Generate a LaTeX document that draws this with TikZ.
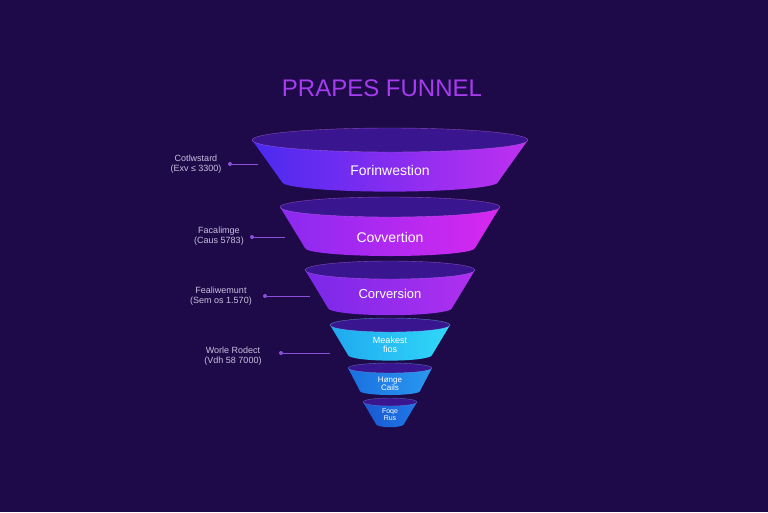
\documentclass[tikz,border=0pt]{standalone}
\usepackage{fontspec}
\setmainfont{Liberation Sans}
\usetikzlibrary{positioning}
\definecolor{bgdark}{HTML}{1E0A48}
\definecolor{titlepurple}{HTML}{A63CF0}
\definecolor{rimdark}{HTML}{3A1590}
\definecolor{labelgray}{HTML}{C8C0E0}
\definecolor{dotpurple}{HTML}{8A50D8}
\begin{document}
\begin{tikzpicture}
    [
      x=1pt, y=-1pt,
      stage/.style={text=white, font=\fontsize{#1}{#1}\selectfont, align=center},
      side/.style={text=labelgray, font=\fontsize{9}{10}\selectfont, align=center},
      my dot/.style={circle, fill=dotpurple, minimum width=4pt, inner sep=0pt},
      link/.style={dotpurple, line width=0.8pt}
    ]
    \fill [bgdark] (0,0) rectangle (768,512);
    \useasboundingbox (0,0) rectangle (768,512);
    \node (title) [text=titlepurple, font=\fontsize{24}{24}\selectfont] at (382,88) {PRAPES FUNNEL};
    % funnel stages: top y, top half width, rim radius, bottom y, bottom half width, left colour, right colour
    \foreach \ty/\tw/\r/\by/\bw/\cl/\cr in {140/138/12/182/108/4A2AF0/C030F0, 207/110/10/248/85/8A2AF0/D828F0, 270/85/9/308/62/7A28E8/B030F0, 325/60/7/355/42/20A8F0/30D8F8, 368/42/5/391/30/1A70E0/2A98F0, 402/27/4/424/14/1858D0/2078E8}
    {
      \definecolor{segl}{HTML}{\cl}
      \definecolor{segr}{HTML}{\cr}
      \shade [left color=segl, right color=segr]
        (390-\tw,\ty) -- (390-\bw,\by) arc [start angle=180, end angle=0, x radius=\bw, y radius=\r*0.8] -- (390+\tw,\ty) -- cycle;
      \fill [rimdark] (390,\ty) ellipse [x radius=\tw, y radius=\r];
      \draw [segr!60!white, line width=0.4pt, opacity=0.5] (390,\ty) ellipse [x radius=\tw, y radius=\r];
    }
    \node (s1) [stage=14] at (390,170) {Forinwestion};
    \node (s2) [stage=14] at (390,237) {Covvertion};
    \node (s3) [stage=13] at (390,294) {Corversion};
    \node (s4) [stage=9] at (390,345) {Meakest\\fios};
    \node (s5) [stage=8] at (390,384) {Hønge\\Cails};
    \node (s6) [stage=7] at (390,415) {Foqe\\Rus};
    % side labels
    \node (l1) [side] at (196,164) {Cotlwstard\\(Exv ≤ 3300)};
    \node (l2) [side] at (219,236) {Facalimge\\(Caus 5783)};
    \node (l3) [side] at (221,296) {Fealiwemunt\\(Sem os 1.570)};
    \node (l4) [side] at (233,356) {Worle Rodect\\(Vdh 58 7000)};
    \foreach \d/\x/\y/\e in {d1/230/164/258, d2/252/237/285, d3/265/296/310, d4/281/353/330}
    {
      \node (\d) [my dot] at (\x,\y) {};
      \coordinate (\d e) at (\e,\y);
      \draw [link] (\d) -- (\d e);
    }
\end{tikzpicture}
\end{document}
